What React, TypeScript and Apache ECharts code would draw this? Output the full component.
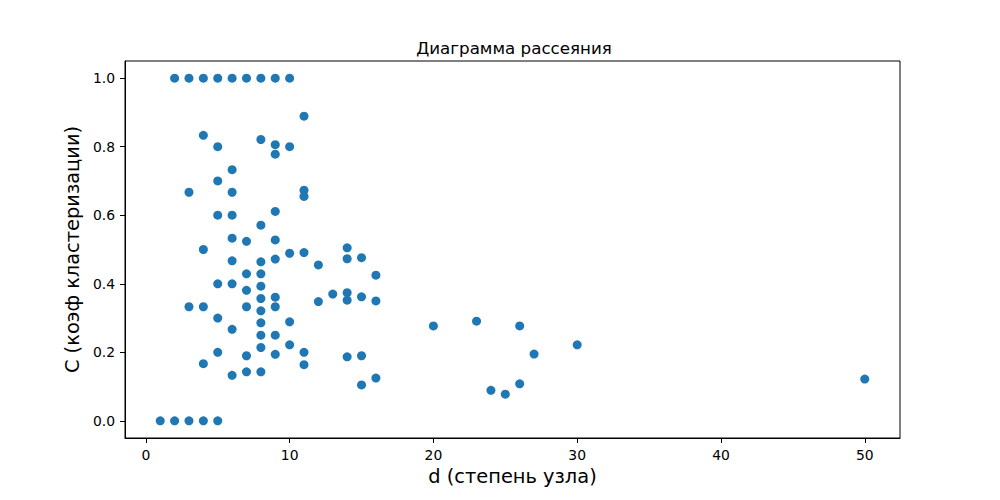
import React, { useEffect, useRef } from 'react';
import * as echarts from 'echarts';

// degree of node (d) and clustering coefficient (C)
const degrees = [
  1,
  2, 2,
  3, 3, 3, 3,
  4, 4, 4, 4, 4, 4,
  5, 5, 5, 5, 5, 5, 5, 5,
  6, 6, 6, 6, 6, 6, 6, 6, 6,
  7, 7, 7, 7, 7, 7, 7,
  8, 8, 8, 8, 8, 8, 8, 8, 8, 8, 8, 8,
  9, 9, 9, 9, 9, 9, 9, 9, 9, 9,
  10, 10, 10, 10, 10,
  11, 11, 11, 11, 11, 11,
  12, 12,
  13,
  14, 14, 14, 14, 14,
  15, 15, 15, 15,
  16, 16, 16,
  20, 23, 24, 25, 26, 26, 27, 30, 50,
];

const clustering = [
  0,
  1, 0,
  1, 0.667, 0.333, 0,
  1, 0.833, 0.5, 0.333, 0.167, 0,
  1, 0.8, 0.7, 0.6, 0.4, 0.3, 0.2, 0,
  1, 0.733, 0.667, 0.6, 0.533, 0.467, 0.4, 0.267, 0.133,
  1, 0.524, 0.429, 0.381, 0.333, 0.19, 0.143,
  1, 0.821, 0.571, 0.464, 0.429, 0.393, 0.357, 0.321, 0.286, 0.25, 0.214, 0.143,
  1, 0.806, 0.778, 0.611, 0.528, 0.472, 0.361, 0.333, 0.25, 0.194,
  1, 0.8, 0.489, 0.289, 0.222,
  0.889, 0.673, 0.655, 0.491, 0.2, 0.164,
  0.455, 0.348,
  0.37,
  0.505, 0.473, 0.374, 0.352, 0.187,
  0.476, 0.362, 0.19, 0.105,
  0.425, 0.35, 0.125,
  0.277, 0.291, 0.089, 0.078, 0.277, 0.108, 0.195, 0.222, 0.122,
];

const xTicks = [0, 10, 20, 30, 40, 50];
const yTicks = [0, 0.2, 0.4, 0.6, 0.8, 1.0];

const Chart = () => {
  const chartRef = useRef<HTMLDivElement>(null);

  useEffect(() => {
    if (!chartRef.current) return;
    document.body.style.margin = '0';

    const chart = echarts.init(chartRef.current, null, { renderer: 'svg' });
    const font = 'DejaVu Sans';

    const option = {
      animation: false,
      backgroundColor: '#ffffff',
      title: {
        text: 'Диаграмма рассеяния',
        left: 509,
        top: 34,
        textAlign: 'center',
        textStyle: { fontFamily: font, fontSize: 16.7, fontWeight: 'normal', color: '#000' },
      },
      grid: {
        left: 125,
        right: 100,
        top: 61,
        bottom: 62,
        show: true,
        borderColor: '#000',
        borderWidth: 1,
        backgroundColor: 'transparent',
      },
      xAxis: {
        type: 'value',
        min: -1.45,
        max: 52.45,
        name: 'd (степень узла)',
        nameLocation: 'middle',
        nameGap: 27,
        nameTextStyle: { fontFamily: font, fontSize: 19.4, color: '#000' },
        splitLine: { show: false },
        axisLine: { show: true, onZero: false, lineStyle: { color: '#000', width: 1 } },
        axisTick: { show: true, length: 5, customValues: xTicks, lineStyle: { color: '#000' } },
        axisLabel: {
          margin: 10,
          customValues: xTicks,
          fontFamily: font,
          fontSize: 13.9,
          color: '#000',
        },
      },
      yAxis: {
        type: 'value',
        min: -0.05,
        max: 1.05,
        name: 'C (коэф кластеризации)',
        nameLocation: 'middle',
        nameGap: 35,
        nameRotate: 90,
        nameTextStyle: { fontFamily: font, fontSize: 19.4, color: '#000' },
        splitLine: { show: false },
        axisLine: { show: true, onZero: false, lineStyle: { color: '#000', width: 1 } },
        axisTick: { show: true, length: 5, customValues: yTicks, lineStyle: { color: '#000' } },
        axisLabel: {
          margin: 10,
          customValues: yTicks,
          formatter: (v: number) => v.toFixed(1),
          fontFamily: font,
          fontSize: 13.9,
          color: '#000',
        },
      },
      series: [
        {
          type: 'scatter',
          symbol: 'circle',
          symbolSize: 9,
          itemStyle: { color: '#1f77b4', opacity: 1 },
          data: degrees.map((d, i) => [d, clustering[i]]),
        },
      ],
    };

    chart.setOption(option as any);

    return () => {
      chart.dispose();
    };
  }, []);

  return <div ref={chartRef} style={{ width: '1000px', height: '500px' }} />;
};

export default function App() {
  return <Chart />;
}
